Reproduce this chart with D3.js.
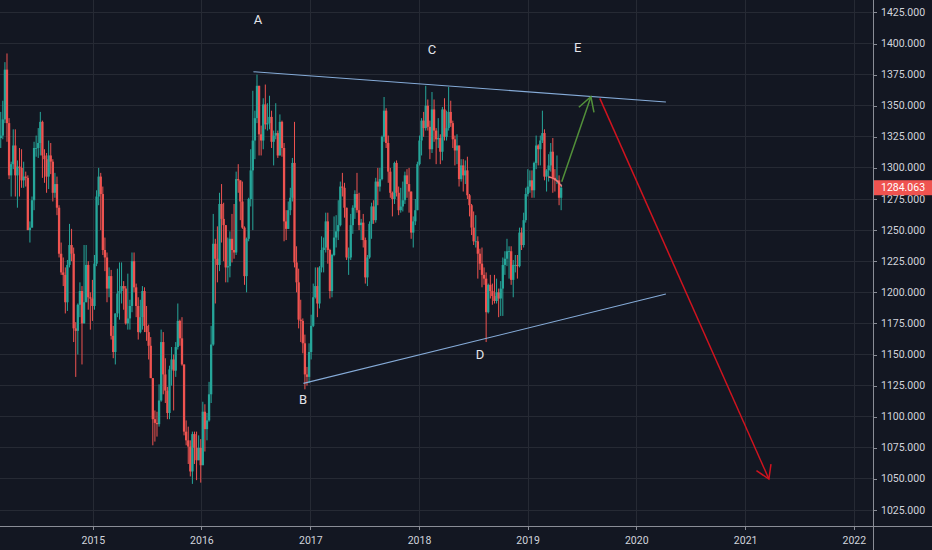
<!DOCTYPE html>
<html>
<head>
<meta charset="utf-8">
<script src="https://cdnjs.cloudflare.com/ajax/libs/d3/7.8.5/d3.min.js"></script>
<style>
  html, body { margin: 0; padding: 0; background: #131722; overflow: hidden; }
  svg { display: block; }
</style>
</head>
<body>
<script>
// weekly gold bars, the first one opens on this monday
const firstWeek = "2014-02-17";

const weekOpen = [
  1319,1324,1326,1339,1379,1336,1294,1303,1318,1294,
  1301,1300,1290,1293,1292,1250,1252,1274,1316,1316,
  1320,1337,1310,1307,1293,1310,1305,1280,1287,1268,
  1231,1216,1214,1192,1222,1238,1231,1171,1169,1190,
  1201,1175,1192,1222,1196,1195,1189,1223,1277,1293,
  1279,1234,1228,1203,1213,1165,1152,1183,1199,1201,
  1205,1203,1175,1179,1189,1225,1204,1189,1168,1180,
  1201,1173,1168,1157,1131,1098,1095,1094,1113,1160,
  1134,1121,1103,1138,1146,1137,1156,1177,1163,1142,
  1088,1081,1076,1056,1086,1075,1065,1075,1061,1104,
  1090,1097,1118,1158,1239,1227,1222,1271,1259,1254,
  1220,1221,1243,1234,1232,1291,1290,1273,1252,1213,
  1243,1275,1298,1322,1340,1366,1327,1322,1351,1335,
  1336,1341,1321,1326,1328,1310,1337,1316,1257,1251,
  1266,1276,1304,1224,1208,1178,1177,1159,1134,1132,
  1152,1173,1196,1205,1191,1220,1234,1236,1257,1234,
  1201,1230,1244,1249,1254,1285,1284,1268,1228,1228,
  1254,1268,1279,1266,1254,1256,1242,1212,1228,1255,
  1269,1258,1289,1285,1291,1325,1346,1320,1297,1280,
  1275,1304,1280,1266,1269,1274,1294,1287,1281,1248,
  1257,1266,1303,1322,1338,1332,1350,1333,1315,1347,
  1330,1323,1324,1313,1347,1325,1332,1345,1336,1323,
  1314,1318,1291,1302,1294,1298,1278,1270,1252,1241,
  1241,1231,1223,1214,1211,1184,1206,1201,1197,1193,
  1200,1195,1203,1222,1227,1233,1233,1210,1222,1222,
  1221,1248,1238,1258,1279,1285,1290,1282,1304,1318,
  1315,1322,1328,1293,1298,1302,1313,1292,1290,1290,
  1276
];

const weekHigh = [
  1332,1345,1354,1385,1392,1340,1305,1331,1331,1306,
  1316,1315,1305,1297,1294,1257,1277,1321,1326,1332,
  1345,1338,1315,1312,1322,1320,1307,1296,1293,1270,
  1240,1228,1220,1226,1255,1251,1236,1176,1191,1208,
  1205,1238,1238,1225,1200,1210,1230,1282,1300,1296,
  1285,1244,1232,1220,1218,1173,1183,1219,1224,1224,
  1209,1205,1215,1194,1232,1232,1207,1196,1194,1205,
  1204,1189,1174,1164,1131,1105,1104,1126,1170,1168,
  1147,1124,1141,1156,1150,1160,1191,1178,1180,1142,
  1097,1092,1081,1088,1088,1088,1085,1082,1112,1110,
  1103,1128,1173,1263,1243,1253,1280,1287,1272,1254,
  1244,1249,1263,1271,1297,1303,1290,1289,1253,1244,
  1276,1315,1362,1346,1375,1366,1334,1356,1367,1352,
  1358,1346,1330,1352,1330,1343,1338,1320,1266,1273,
  1284,1308,1337,1237,1219,1194,1179,1166,1140,1159,
  1182,1207,1220,1220,1221,1245,1244,1264,1264,1235,
  1231,1261,1262,1274,1289,1296,1288,1268,1236,1263,
  1270,1282,1296,1280,1259,1263,1244,1230,1257,1272,
  1274,1292,1300,1300,1326,1357,1348,1326,1300,1281,
  1305,1306,1285,1284,1289,1297,1299,1300,1281,1261,
  1275,1305,1326,1340,1345,1366,1355,1338,1361,1355,
  1332,1340,1327,1349,1356,1346,1365,1354,1338,1326,
  1327,1318,1307,1307,1306,1309,1279,1271,1265,1262,
  1245,1235,1236,1220,1216,1207,1214,1207,1214,1211,
  1203,1209,1228,1233,1243,1237,1237,1226,1230,1230,
  1252,1252,1264,1284,1299,1298,1298,1305,1326,1319,
  1326,1346,1331,1299,1311,1320,1324,1299,1310,1294,
  1287
];

const weekLow = [
  1309,1316,1323,1336,1321,1291,1277,1299,1277,1268,
  1277,1284,1284,1285,1250,1240,1252,1266,1309,1308,
  1310,1292,1288,1280,1283,1295,1273,1276,1262,1228,
  1214,1205,1183,1185,1220,1225,1160,1132,1150,1180,
  1142,1175,1192,1186,1170,1177,1186,1221,1270,1250,
  1230,1217,1192,1196,1162,1147,1142,1180,1178,1191,
  1186,1174,1170,1170,1184,1200,1180,1162,1167,1170,
  1168,1161,1146,1131,1077,1080,1084,1092,1112,1118,
  1111,1098,1098,1125,1105,1132,1154,1157,1141,1085,
  1077,1062,1052,1046,1062,1049,1065,1047,1061,1072,
  1081,1096,1111,1157,1191,1208,1217,1240,1225,1208,
  1208,1212,1224,1227,1230,1280,1258,1251,1206,1200,
  1241,1269,1250,1307,1336,1310,1310,1315,1331,1330,
  1331,1316,1302,1323,1308,1310,1309,1241,1242,1251,
  1262,1273,1220,1200,1171,1160,1151,1122,1125,1127,
  1146,1172,1195,1180,1187,1216,1216,1232,1223,1195,
  1196,1229,1236,1242,1253,1277,1260,1226,1214,1226,
  1247,1259,1264,1250,1242,1236,1207,1205,1227,1243,
  1255,1256,1270,1281,1290,1321,1316,1288,1276,1261,
  1271,1277,1262,1264,1265,1271,1276,1264,1243,1236,
  1254,1266,1302,1310,1325,1330,1330,1307,1312,1321,
  1303,1316,1303,1306,1322,1322,1330,1333,1316,1302,
  1303,1285,1289,1281,1287,1275,1261,1246,1238,1236,
  1211,1218,1204,1206,1160,1183,1195,1190,1191,1191,
  1180,1181,1181,1214,1221,1211,1206,1196,1216,1211,
  1220,1234,1236,1256,1277,1280,1276,1276,1299,1302,
  1302,1320,1290,1281,1289,1297,1280,1281,1287,1270,
  1266
];

const weekClose = [
  1324,1326,1339,1379,1336,1294,1303,1318,1294,1301,
  1300,1290,1293,1292,1250,1252,1274,1316,1316,1320,
  1337,1310,1307,1293,1310,1305,1280,1287,1268,1231,
  1216,1214,1192,1222,1238,1231,1171,1169,1190,1201,
  1175,1192,1222,1196,1195,1189,1223,1277,1293,1279,
  1234,1228,1203,1213,1165,1152,1183,1199,1201,1205,
  1203,1175,1179,1189,1225,1204,1189,1168,1180,1201,
  1173,1168,1157,1131,1098,1095,1094,1113,1160,1134,
  1121,1103,1138,1146,1137,1156,1177,1163,1142,1088,
  1081,1076,1056,1086,1075,1065,1075,1061,1104,1090,
  1097,1118,1158,1239,1227,1222,1271,1259,1254,1220,
  1221,1243,1234,1232,1291,1290,1273,1252,1213,1243,
  1275,1298,1322,1340,1366,1327,1322,1351,1335,1336,
  1341,1321,1326,1328,1310,1337,1316,1257,1251,1266,
  1276,1304,1224,1208,1178,1177,1159,1134,1132,1152,
  1173,1196,1205,1191,1220,1234,1236,1257,1234,1201,
  1230,1244,1249,1254,1285,1284,1268,1228,1228,1254,
  1268,1279,1266,1254,1256,1242,1212,1228,1255,1269,
  1258,1289,1285,1291,1325,1346,1320,1297,1280,1275,
  1304,1280,1266,1269,1274,1294,1287,1281,1248,1257,
  1266,1303,1322,1338,1332,1350,1333,1315,1347,1330,
  1323,1324,1313,1347,1325,1332,1345,1336,1323,1314,
  1318,1291,1302,1294,1298,1278,1270,1252,1241,1241,
  1231,1223,1214,1211,1184,1206,1201,1197,1193,1200,
  1195,1203,1222,1227,1233,1233,1210,1222,1222,1221,
  1248,1238,1258,1279,1285,1290,1282,1304,1318,1315,
  1322,1328,1293,1298,1302,1313,1292,1290,1290,1276,
  1284.063
];

const yearTicks = [2015, 2016, 2017, 2018, 2019, 2020, 2021, 2022];
const priceTicks = [1025, 1050, 1075, 1100, 1125, 1150, 1175, 1200, 1225,
  1250, 1275, 1300, 1325, 1350, 1375, 1400, 1425];
const lastPrice = 1284.063;

// drawings on the chart, as [date, price]
const upperTrend = [["2016-06-22", 1377.3], ["2020-04-08", 1353.0]];
const lowerTrend = [["2016-12-07", 1126.8], ["2020-04-08", 1198.6]];
const upArrow = [["2019-04-24", 1288.9], ["2019-07-31", 1357.2]];
const downArrow = [["2019-08-30", 1355.9], ["2021-03-20", 1049.9]];
const pinkStroke = [["2019-03-12", 1292.7], ["2019-04-05", 1291.1], ["2019-04-23", 1285.4]];
const waveLabels = ["A", "B", "C", "D", "E"];
const waveLabelPos = [
  ["2016-07-07", 1418.9], ["2016-12-06", 1114.2], ["2018-02-12", 1394.8],
  ["2018-07-23", 1149.6], ["2019-06-17", 1396.4]
];

// layout
const w = 932;
const h = 550;
const axisX = 873;
const axisY = 526;

const bg = "#131722";
const gridColor = "#262a34";
const axisColor = "#8a8d96";
const textColor = "#d1d4dc";
const upColor = "#26a69a";
const downColor = "#ef5350";

const parseDay = d3.timeParse("%Y-%m-%d");

const scaleX = d3
  .scaleTime()
  .domain([new Date(2015, 0, 1), new Date(2022, 0, 1)])
  .range([93.3, 854.3]);

const scaleY = d3.scaleLinear().domain([1025, 1425]).range([510, 12.4]);

const pt = (d) => [scaleX(parseDay(d[0])), scaleY(d[1])];

const start = parseDay(firstWeek);
const bars = weekClose.map((c, i) => ({
  date: d3.timeMonday.offset(start, i),
  open: weekOpen[i],
  high: weekHigh[i],
  low: weekLow[i],
  close: c,
}));

const svg = d3
  .select("body")
  .append("svg")
  .attr("width", w)
  .attr("height", h)
  .style("background", bg)
  .style("font-family", "Roboto, 'Liberation Sans', sans-serif");

svg
  .append("defs")
  .append("clipPath")
  .attr("id", "plot")
  .append("rect")
  .attr("x", 0)
  .attr("y", 0)
  .attr("width", axisX)
  .attr("height", axisY);

// grid
const grid = svg.append("g").attr("shape-rendering", "crispEdges");

grid
  .selectAll(".hgrid")
  .data(priceTicks)
  .join("line")
  .attr("class", "hgrid")
  .attr("x1", 0)
  .attr("x2", axisX)
  .attr("y1", (d) => scaleY(d))
  .attr("y2", (d) => scaleY(d))
  .attr("stroke", gridColor);

grid
  .selectAll(".vgrid")
  .data(yearTicks)
  .join("line")
  .attr("class", "vgrid")
  .attr("x1", (d) => scaleX(new Date(d, 0, 1)))
  .attr("x2", (d) => scaleX(new Date(d, 0, 1)))
  .attr("y1", 0)
  .attr("y2", axisY)
  .attr("stroke", gridColor);

// candles
const candles = svg.append("g").attr("clip-path", "url(#plot)");

const candle = candles
  .selectAll("g")
  .data(bars)
  .join("g")
  .attr("transform", (d) => "translate(" + scaleX(d.date) + ",0)");

candle
  .append("line")
  .attr("y1", (d) => scaleY(d.high))
  .attr("y2", (d) => scaleY(d.low))
  .attr("stroke", (d) => (d.close >= d.open ? upColor : downColor))
  .attr("stroke-width", 1);

candle
  .append("rect")
  .attr("x", -1.15)
  .attr("width", 2.3)
  .attr("y", (d) => scaleY(Math.max(d.open, d.close)))
  .attr("height", (d) =>
    Math.max(0.8, Math.abs(scaleY(d.open) - scaleY(d.close)))
  )
  .attr("fill", (d) => (d.close >= d.open ? upColor : downColor));

// drawings
const draw = svg.append("g").attr("clip-path", "url(#plot)").attr("fill", "none");

const line = d3.line();

draw
  .append("path")
  .attr("d", line(upperTrend.map(pt)))
  .attr("stroke", "#86acd9")
  .attr("stroke-width", 1.1);

draw
  .append("path")
  .attr("d", line(lowerTrend.map(pt)))
  .attr("stroke", "#86acd9")
  .attr("stroke-width", 1.1);

draw
  .append("path")
  .attr("d", d3.line().curve(d3.curveBasis)(pinkStroke.map(pt)))
  .attr("stroke", "#f27a7a")
  .attr("stroke-width", 1.5)
  .attr("stroke-linecap", "round");

function arrow(points, color, len, ang) {
  const [a, b] = points.map(pt);
  const t = Math.atan2(a[1] - b[1], a[0] - b[0]);
  const arms = [t - ang, t + ang].map((k) => [
    b[0] + len * Math.cos(k),
    b[1] + len * Math.sin(k),
  ]);
  draw
    .append("path")
    .attr("d", line([a, b]))
    .attr("stroke", color)
    .attr("stroke-width", 1.5);
  draw
    .append("path")
    .attr("d", line([arms[0], b, arms[1]]))
    .attr("stroke", color)
    .attr("stroke-width", 1.5)
    .attr("stroke-linejoin", "miter");
}

arrow(upArrow, "#52903a", 16, Math.PI / 6);
arrow(downArrow, "#d0141f", 15, (32 * Math.PI) / 180);

// wave letters
svg
  .append("g")
  .selectAll("text")
  .data(waveLabels)
  .join("text")
  .attr("x", (d, i) => pt(waveLabelPos[i])[0])
  .attr("y", (d, i) => pt(waveLabelPos[i])[1])
  .attr("text-anchor", "middle")
  .attr("dominant-baseline", "central")
  .attr("fill", "#e3e5ea")
  .style("font-size", "13px")
  .text((d) => d);

// axes
const axes = svg.append("g").attr("shape-rendering", "crispEdges");

axes
  .append("line")
  .attr("x1", axisX + 0.5)
  .attr("x2", axisX + 0.5)
  .attr("y1", 0)
  .attr("y2", h)
  .attr("stroke", axisColor);

axes
  .append("line")
  .attr("x1", 0)
  .attr("x2", w)
  .attr("y1", axisY + 0.5)
  .attr("y2", axisY + 0.5)
  .attr("stroke", axisColor);

axes
  .selectAll(".ytick")
  .data(priceTicks)
  .join("line")
  .attr("class", "ytick")
  .attr("x1", axisX)
  .attr("x2", axisX + 4)
  .attr("y1", (d) => Math.round(scaleY(d)) + 0.5)
  .attr("y2", (d) => Math.round(scaleY(d)) + 0.5)
  .attr("stroke", axisColor);

axes
  .selectAll(".xtick")
  .data(yearTicks)
  .join("line")
  .attr("class", "xtick")
  .attr("x1", (d) => scaleX(new Date(d, 0, 1)))
  .attr("x2", (d) => scaleX(new Date(d, 0, 1)))
  .attr("y1", axisY)
  .attr("y2", axisY + 4)
  .attr("stroke", axisColor);

svg
  .append("g")
  .selectAll("text")
  .data(priceTicks)
  .join("text")
  .attr("x", axisX + 8)
  .attr("y", (d) => scaleY(d))
  .attr("dominant-baseline", "central")
  .attr("fill", textColor)
  .style("font-size", "10.5px")
  .text((d) => d3.format(".3f")(d));

svg
  .append("g")
  .selectAll("text")
  .data(yearTicks)
  .join("text")
  .attr("x", (d) => scaleX(new Date(d, 0, 1)))
  .attr("y", 540)
  .attr("text-anchor", "middle")
  .attr("dominant-baseline", "central")
  .attr("fill", textColor)
  .style("font-size", "10.5px")
  .text((d) => d);

// last price tag
const tagY = scaleY(lastPrice);
svg
  .append("rect")
  .attr("x", axisX + 1)
  .attr("y", tagY - 7.5)
  .attr("width", w - axisX - 1)
  .attr("height", 15)
  .attr("fill", "#ef5350");

svg
  .append("text")
  .attr("x", axisX + 8)
  .attr("y", tagY)
  .attr("dominant-baseline", "central")
  .attr("fill", "#ffffff")
  .style("font-size", "10.5px")
  .text(d3.format(".3f")(lastPrice));
</script>
</body>
</html>
